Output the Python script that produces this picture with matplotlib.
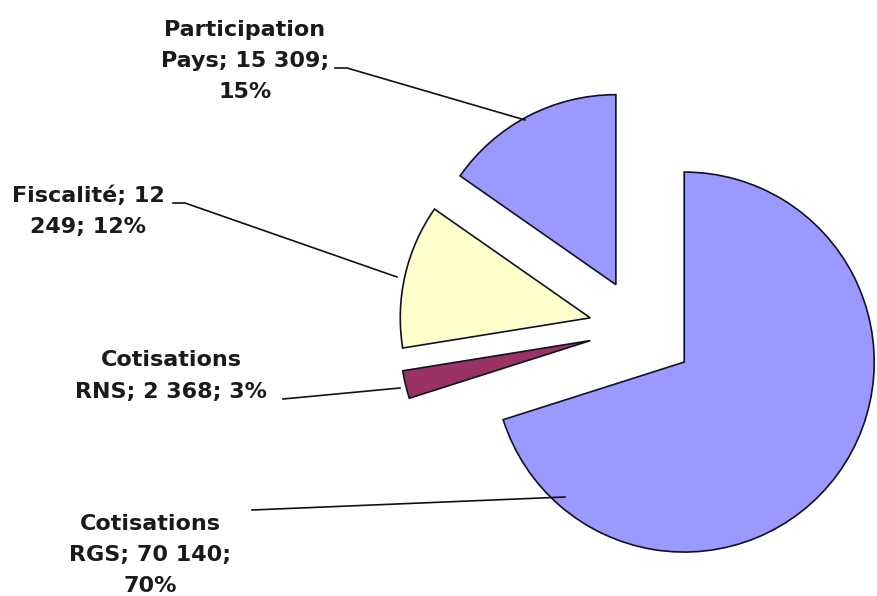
import matplotlib
matplotlib.use("Agg")
import matplotlib.pyplot as plt

# data
labels = ["Cotisations\nRGS; 70 140;\n70%",
          "Cotisations\nRNS; 2 368; 3%",
          "Fiscalité; 12\n249; 12%",
          "Participation\nPays; 15 309;\n15%"]
values = [70140, 2368, 12249, 15309]
colors = ["#9999ff", "#993366", "#ffffcc", "#9999ff"]

W, H = 877, 596
fig = plt.figure(figsize=(W / 100, H / 100), dpi=100)
ax = fig.add_axes([0, 0, 1, 1])

# axes in pixel units, y measured from the bottom
def px(x, y):
    return x, H - y

R = 190
wedges, _ = ax.pie(values, colors=colors, startangle=90, counterclock=False,
                   radius=R, center=px(639, 329), explode=[56, 50, 50, 50],
                   wedgeprops=dict(edgecolor="#111122", linewidth=1.2))
ax.set_xlim(0, W)
ax.set_ylim(0, H)
ax.set_aspect("equal")
ax.axis("off")

font = dict(family="DejaVu Sans", weight="bold", size=16, color="#1a1a1a",
            ha="center", va="center", multialignment="center", linespacing=1.7)

# label blocks (pixel positions) and leader lines
text_pos = [(150, 555), (171, 376), (88, 211), (245, 61)]
leaders = [
    [(252, 510), (565, 497)],
    [(283, 399), (400, 388)],
    [(173, 203), (185, 203), (397, 277)],
    [(335, 68), (347, 68), (525, 120)],
]

for lab, pos, pts in zip(labels, text_pos, leaders):
    ax.text(*px(*pos), lab, **font)
    xs = [p[0] for p in pts]
    ys = [H - p[1] for p in pts]
    ax.plot(xs, ys, color="#111111", linewidth=1.2)

fig.savefig("out.png", dpi=100)
